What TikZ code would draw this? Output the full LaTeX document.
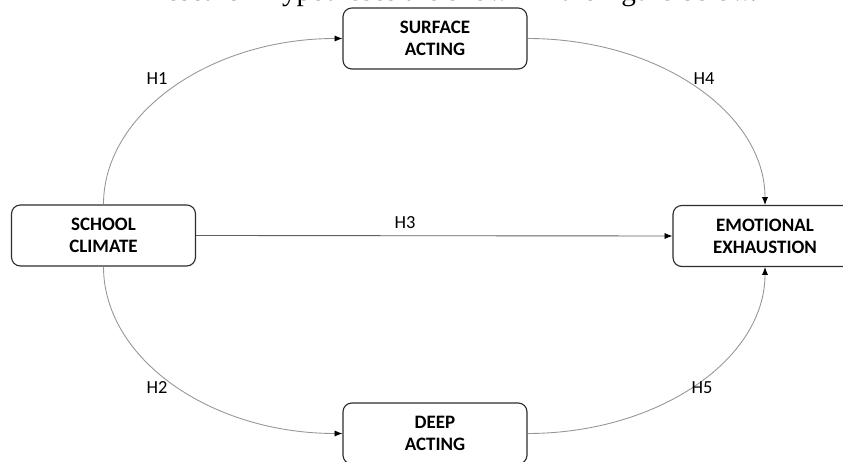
\documentclass[tikz,border=0pt]{standalone}
\usepackage{fontspec}
\setmainfont{Carlito}
\newfontfamily\captionfont{Liberation Serif}
\usepackage{tikz}
\usetikzlibrary{arrows.meta, positioning, calc}
\definecolor{boxline}{RGB}{45,45,45}
\definecolor{curvegray}{RGB}{150,150,150}
\definecolor{directgray}{RGB}{95,95,95}

\begin{document}
\begin{tikzpicture}[x=0.02cm, y=-0.02cm,
    construct/.style={draw=boxline, line width=0.65pt, rounded corners=5pt, minimum width=3.68cm, minimum height=1.22cm, inner sep=0pt, align=center, font=\fontsize{10.8}{12.5}\selectfont\bfseries},
    link/.style={draw=curvegray, line width=0.5pt, -{Latex[black, length=4.5pt, width=3.5pt]}},
    hyp/.style={font=\fontsize{10.5}{12.5}\selectfont}]
    \useasboundingbox (0,0) rectangle (843,462);
    \clip (0,0) rectangle (843,462);

    % Caption line cut off at the top
    \node[anchor=base, inner sep=0pt, font=\captionfont\fontsize{16.6}{18}\selectfont] (caption) at (452,0.5) {Research Hypotheses are shown in the figure below.};

    % The Constructs
    \node[construct] (surface) at (435,38.5) {SURFACE\\ACTING};
    \node[construct] (school) at (103.5,235.5) {SCHOOL\\CLIMATE};
    \node[construct] (emotion) at (765,236) {EMOTIONAL\\EXHAUSTION};
    \node[construct] (deep) at (435,433.5) {DEEP\\ACTING};

    % The Paths
    \draw[link] (school.north) .. controls +(0,-91) and +(-132,0) .. (surface.west);
    \draw[link] (surface.east) .. controls +(131,0) and +(0,-92) .. (emotion.north);
    \draw[link, draw=directgray] (school.east) -- (emotion.west);
    \draw[link] (school.south) .. controls +(0,92) and +(-132,0) .. (deep.west);
    \draw[link] (deep.east) .. controls +(131,0) and +(0,92) .. (emotion.south);

    % Hypothesis Labels
    \node[hyp] (h1) at (157,79) {H1};
    \node[hyp] (h4) at (704,79) {H4};
    \node[hyp] (h3) at (405,223) {H3};
    \node[hyp] (h2) at (157,388) {H2};
    \node[hyp] (h5) at (702,388) {H5};
\end{tikzpicture}
\end{document}
